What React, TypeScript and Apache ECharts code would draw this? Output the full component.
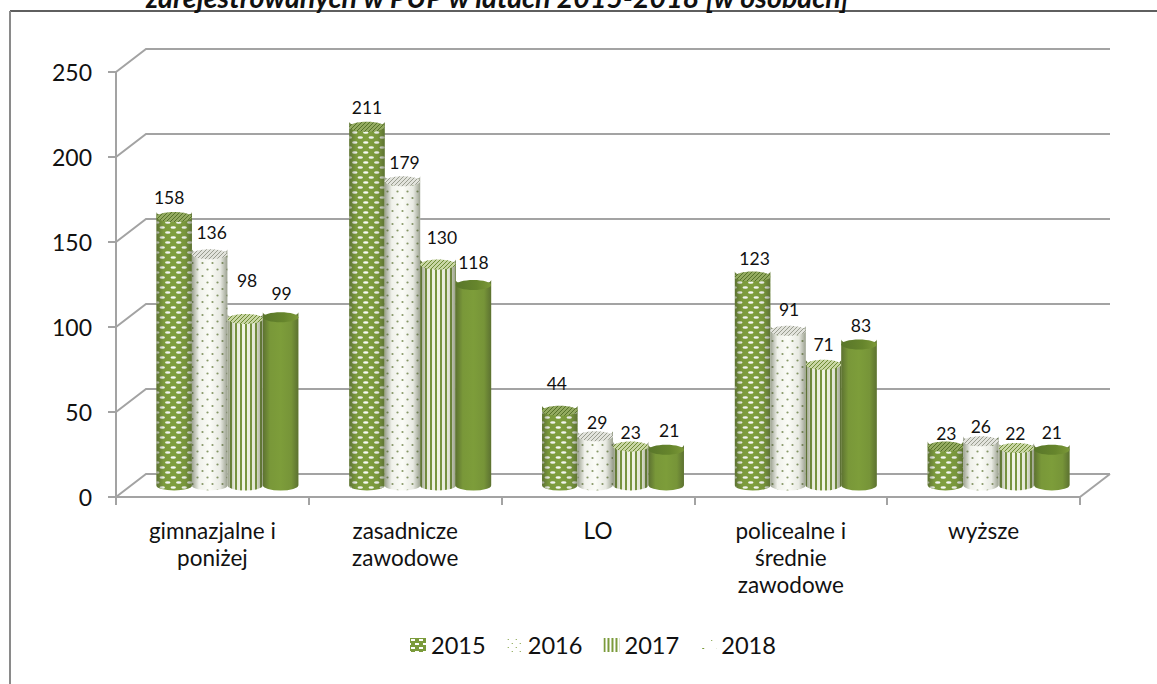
import React, { useEffect, useRef } from "react";
import * as echarts from "echarts";

const categories = ["gimnazjalne i\nponiżej", "zasadnicze\nzawodowe", "LO", "policealne i\nśrednie\nzawodowe", "wyższe"];
const years = ["2015", "2016", "2017", "2018"];
const values2015 = [158, 211, 44, 123, 23];
const values2016 = [136, 179, 29, 91, 26];
const values2017 = [98, 130, 23, 71, 22];
const values2018 = [99, 118, 21, 83, 21];
const gridValues = [0, 50, 100, 150, 200, 250];
const titleText = "zarejestrowanych w PUP w latach 2015-2018 [w osobach]";

// Manual data-label nudges, per series and category, as the source chart had them.
const labelNudges = [
  [[-5, 0], [0, 0], [-3, -8], [2, 1], [1, 6]],
  [[2, -3], [2, 0], [2, 5], [1, -2], [0, 4]],
  [[2, -19], [4, -8], [0, 5], [0, -1], [-1, 4]],
  [[1, -5], [0, -3], [3, 0], [2, 0], [0, 2]],
];

const GREEN = "#7b9b3b";
const DEPTH_X = 30;
const DEPTH_Y = 23;

function tile(w: number, h: number, draw: (c: CanvasRenderingContext2D) => void) {
  const canvas = document.createElement("canvas");
  canvas.width = w;
  canvas.height = h;
  draw(canvas.getContext("2d") as CanvasRenderingContext2D);
  return { image: canvas, repeat: "repeat", imageWidth: w, imageHeight: h } as any;
}

function blob(c: CanvasRenderingContext2D, x: number, y: number, rx: number, ry: number) {
  c.beginPath();
  c.ellipse(x, y, rx, ry, 0, 0, Math.PI * 2);
  c.fill();
}

function makePatterns() {
  const brick = tile(11, 10, (c) => {
    c.fillStyle = "rgba(255,255,255,0.95)";
    blob(c, 2.75, 2.5, 2.7, 1.3);
    blob(c, 8.25, 7.5, 2.7, 1.3);
  });
  const dots = tile(10, 13, (c) => {
    c.fillStyle = "rgba(110,130,70,0.8)";
    blob(c, 2.5, 3, 1.1, 1.1);
    blob(c, 7.5, 9.5, 1.1, 1.1);
  });
  const stripes = tile(5, 5, (c) => {
    c.fillStyle = "rgba(115,145,55,0.95)";
    c.fillRect(0, 0, 2, 5);
  });
  const hatch = (ink: string, paper: string) =>
    tile(4, 4, (c) => {
      c.fillStyle = paper;
      c.fillRect(0, 0, 4, 4);
      c.strokeStyle = ink;
      c.lineWidth = 1;
      c.beginPath();
      c.moveTo(-1, 1);
      c.lineTo(1, -1);
      c.moveTo(-1, 5);
      c.lineTo(5, -1);
      c.moveTo(3, 5);
      c.lineTo(5, 3);
      c.stroke();
    });
  const legendBrick = tile(8, 8, (c) => {
    c.fillStyle = GREEN;
    c.fillRect(0, 0, 8, 8);
    c.fillStyle = "#fff";
    c.fillRect(1, 1, 4, 2);
    c.fillRect(5, 5, 3, 2);
    c.fillRect(0, 5, 1, 2);
  });
  const legendDots = tile(8, 8, (c) => {
    c.fillStyle = "#fff";
    c.fillRect(0, 0, 8, 8);
    c.fillStyle = GREEN;
    c.fillRect(1, 1, 1, 1);
    c.fillRect(5, 5, 1, 1);
  });
  const legendStripes = tile(4, 4, (c) => {
    c.fillStyle = "#fff";
    c.fillRect(0, 0, 4, 4);
    c.fillStyle = GREEN;
    c.fillRect(0, 0, 2, 4);
  });
  const legendSparse = tile(14, 14, (c) => {
    c.fillStyle = "#fff";
    c.fillRect(0, 0, 14, 14);
    c.fillStyle = GREEN;
    c.fillRect(11, 2, 1, 1);
    c.fillRect(2, 10, 2, 1);
  });
  return {
    bodies: [
      { base: "#7f9f3e", overlay: brick },
      { base: "#fbfcf7", overlay: dots },
      { base: "#f2f5e6", overlay: stripes },
      { base: "#7d9d3a", overlay: null },
    ],
    tops: [
      hatch("#56722a", "#93aa60"),
      hatch("#9a9d90", "#e2e3dc"),
      hatch("#6e8c35", "#c9d6a4"),
      new echarts.graphic.LinearGradient(0, 0, 1, 0, [
        { offset: 0, color: "#59762a" },
        { offset: 0.6, color: "#66852c" },
        { offset: 1, color: "#7b9838" },
      ]),
    ],
    legend: [legendBrick, legendDots, legendStripes, legendSparse],
  };
}

function shade(alpha: number) {
  return new echarts.graphic.LinearGradient(0, 0, 1, 0, [
    { offset: 0, color: `rgba(60,70,40,${alpha})` },
    { offset: 0.2, color: "rgba(60,70,40,0.06)" },
    { offset: 0.5, color: "rgba(60,70,40,0)" },
    { offset: 0.8, color: "rgba(60,70,40,0.1)" },
    { offset: 1, color: `rgba(60,70,40,${alpha})` },
  ]);
}

export default function App() {
  const ref = useRef<HTMLDivElement>(null);

  useEffect(() => {
    document.body.style.margin = "0";
    document.body.style.overflow = "hidden";
    const chart = echarts.init(ref.current as HTMLDivElement, undefined, { renderer: "svg" });
    const patterns = makePatterns();
    const allValues = [values2015, values2016, values2017, values2018];

    const cylinderItem = (seriesIndex: number) => (_: any, api: any) => {
      const cat = api.value(0);
      const val = api.value(1);
      const base = api.coord([cat, 0]);
      const top = api.coord([cat, val]);
      const band = api.size([1, 0])[0];
      const w = band * 0.184;
      const cx = base[0] + DEPTH_X / 2 + (seriesIndex - 1.5) * w;
      const x0 = cx - w / 2;
      const x1 = cx + w / 2;
      const yb = base[1] - DEPTH_Y / 2;
      const yt = top[1] - DEPTH_Y / 2;
      const rx = w / 2;
      const ry = 5;
      const shape = {
        pathData: `M${x0} ${yt}L${x0} ${yb}A${rx} ${ry} 0 0 0 ${x1} ${yb}L${x1} ${yt}A${rx} ${ry} 0 0 1 ${x0} ${yt}Z`,
        x: x0,
        y: yt - ry,
        width: w,
        height: yb - yt + ry * 2,
        layout: "cover",
      };
      const body = patterns.bodies[seriesIndex];
      const children: any[] = [{ type: "path", shape, style: { fill: body.base } }];
      if (body.overlay) children.push({ type: "path", shape, style: { fill: body.overlay } });
      children.push({
        type: "path",
        shape,
        style: { fill: shade(0.5) },
      });
      children.push({
        type: "ellipse",
        shape: { cx, cy: yt, rx, ry },
        style: { fill: patterns.tops[seriesIndex] },
      });
      const nudge = labelNudges[seriesIndex][cat];
      children.push({
        type: "text",
        style: {
          text: String(val),
          x: cx + nudge[0],
          y: yt - 19 + nudge[1],
          fill: "#111",
          font: "17.5px Lato",
          align: "center",
          verticalAlign: "middle",
        },
        z2: 20,
      });
      return { type: "group", children };
    };

    const wallItem = (params: any, api: any) => {
      const v = api.value(0);
      const y = api.coord([0, v])[1];
      const sys = params.coordSys;
      const left = sys.x;
      const right = sys.x + sys.width;
      const children: any[] = [
        {
          type: "polyline",
          shape: {
            points: [
              [left, y],
              [left + DEPTH_X, y - DEPTH_Y],
              [right + DEPTH_X, y - DEPTH_Y],
            ],
          },
          style: { stroke: "#a3a3a3", lineWidth: 2, fill: "none" },
        },
      ];
      if (v === 0) {
        children.push({
          type: "line",
          shape: { x1: right, y1: y, x2: right + DEPTH_X, y2: y - DEPTH_Y },
          style: { stroke: "#a3a3a3", lineWidth: 2 },
        });
      }
      return { type: "group", children };
    };

    chart.setOption({
      animation: false,
      backgroundColor: "#fff",
      title: {
        text: titleText,
        left: 146,
        top: -18,
        padding: 0,
        textStyle: { fontFamily: "Lato", fontSize: 28.6, fontWeight: "bold", fontStyle: "italic", color: "#111" },
      },
      grid: { left: 116, right: 77, top: 72, bottom: 187 },
      legend: {
        left: 410,
        top: 633,
        padding: 0,
        itemWidth: 16,
        itemHeight: 14,
        itemGap: 21,
        textStyle: { fontFamily: "Lato", fontSize: 23.6, color: "#111" },
        data: years.map((y, i) => ({ name: y, icon: "rect", itemStyle: { color: patterns.legend[i], borderWidth: 0 } })),
      },
      xAxis: {
        type: "category",
        data: categories,
        axisLine: { lineStyle: { color: "#a3a3a3", width: 2 } },
        axisTick: { show: true, alignWithLabel: false, length: 8, lineStyle: { color: "#a3a3a3", width: 2 } },
        axisLabel: { fontFamily: "Lato", fontSize: 22.5, color: "#111", margin: 20, lineHeight: 27, interval: 0 },
      },
      yAxis: {
        type: "value",
        min: 0,
        max: 250,
        interval: 50,
        axisLine: { show: true, lineStyle: { color: "#a3a3a3", width: 2 } },
        axisTick: { show: true, length: 8, lineStyle: { color: "#a3a3a3", width: 2 } },
        axisLabel: { fontFamily: "Lato", fontSize: 23, color: "#111", margin: 24 },
        splitLine: { show: false },
      },
      graphic: [
        { type: "line", silent: true, shape: { x1: 10, y1: 11, x2: 1157, y2: 11 }, style: { stroke: "#5f5f5f", lineWidth: 2 } },
        { type: "line", silent: true, shape: { x1: 10, y1: 11, x2: 10, y2: 684 }, style: { stroke: "#8a8a8a", lineWidth: 2 } },
      ],
      series: [
        {
          type: "custom",
          name: "walls",
          silent: true,
          z: 1,
          coordinateSystem: "cartesian2d",
          encode: { y: 0 },
          data: gridValues.map((v) => [v]),
          renderItem: wallItem,
        },
        ...years.map((y, i) => ({
          type: "custom",
          name: y,
          z: 2,
          coordinateSystem: "cartesian2d",
          encode: { x: 0, y: 1 },
          itemStyle: { color: patterns.legend[i] },
          data: allValues[i].map((v, c) => [c, v]),
          renderItem: cylinderItem(i),
        })),
      ],
    });
    return () => chart.dispose();
  }, []);

  return <div ref={ref} style={{ width: 1157, height: 684 }} />;
}
